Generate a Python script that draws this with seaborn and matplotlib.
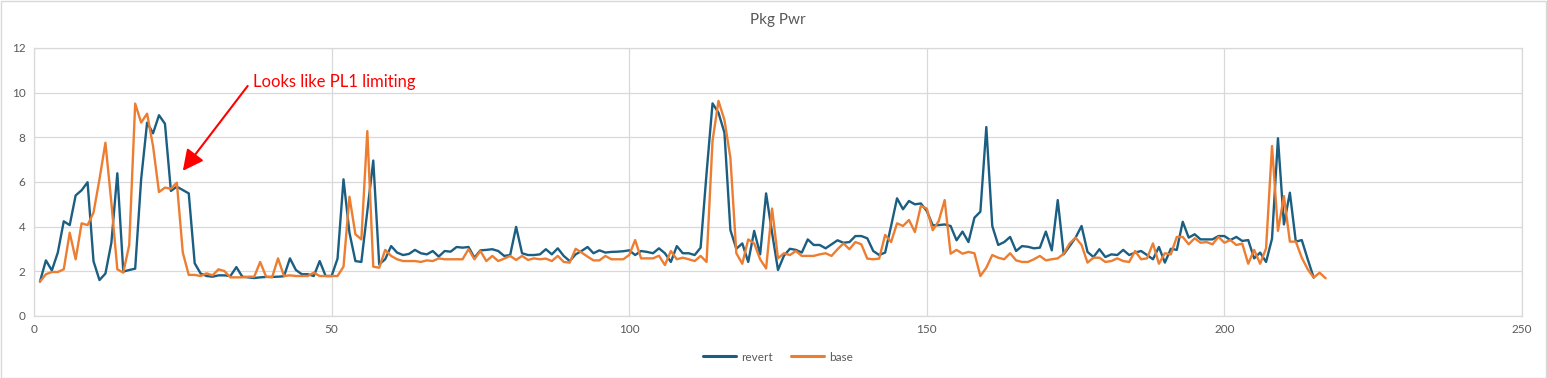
#!/usr/bin/env python3
#
# Pkg Pwr: revert vs base
#
import numpy as np
import pandas
import matplotlib
matplotlib.use('Agg')
import matplotlib.pyplot as plt
import seaborn
from matplotlib.patches import Rectangle

# Package power per sample
revert = [
    1.54, 2.49, 2.04, 2.84, 4.24, 4.07, 5.40, 5.63, 5.99, 2.45,
    1.61, 1.90, 3.28, 6.39, 1.99, 2.06, 2.12, 6.12, 8.66, 8.18,
    8.99, 8.61, 5.60, 5.79, 5.64, 5.49, 2.36, 1.90, 1.79, 1.76,
    1.82, 1.82, 1.79, 2.19, 1.76, 1.73, 1.70, 1.73, 1.75, 1.75,
    1.76, 1.78, 2.58, 2.06, 1.87, 1.87, 1.79, 2.46, 1.79, 1.79,
    2.57, 6.12, 3.73, 2.46, 2.42, 4.70, 6.96, 2.31, 2.54, 3.13,
    2.84, 2.73, 2.78, 2.96, 2.81, 2.76, 2.91, 2.66, 2.91, 2.88,
    3.09, 3.06, 3.09, 2.61, 2.94, 2.96, 2.99, 2.91, 2.69, 2.73,
    3.99, 2.81, 2.73, 2.73, 2.76, 2.99, 2.76, 3.03, 2.69, 2.46,
    2.76, 2.91, 3.09, 2.81, 2.94, 2.84, 2.87, 2.88, 2.90, 2.94,
    2.73, 2.91, 2.87, 2.81, 3.03, 2.81, 2.42, 3.13, 2.81, 2.81,
    2.73, 3.06, 6.40, 9.52, 9.10, 8.21, 3.85, 3.01, 3.25, 2.42,
    3.81, 2.76, 5.49, 3.73, 2.06, 2.70, 3.01, 2.96, 2.84, 3.43,
    3.18, 3.18, 3.03, 3.21, 3.39, 3.28, 3.31, 3.58, 3.58, 3.48,
    2.91, 2.73, 2.84, 4.03, 5.27, 4.78, 5.15, 5.00, 5.04, 4.70,
    4.06, 4.07, 4.10, 4.03, 3.39, 3.78, 3.31, 4.40, 4.67, 8.46,
    4.03, 3.18, 3.31, 3.54, 2.91, 3.13, 3.10, 3.03, 3.06, 3.78,
    2.94, 5.19, 2.76, 3.13, 3.51, 4.03, 2.87, 2.64, 2.99, 2.64,
    2.76, 2.73, 2.96, 2.73, 2.84, 2.91, 2.73, 2.54, 3.09, 2.39,
    3.01, 2.96, 4.22, 3.51, 3.66, 3.43, 3.43, 3.43, 3.58, 3.58,
    3.40, 3.54, 3.36, 3.40, 2.58, 2.84, 2.42, 3.46, 7.96, 4.10,
    5.52, 3.33, 3.40, 2.54, 1.72,
]

base = [
    1.54, 1.87, 1.97, 1.97, 2.09, 3.73, 2.54, 4.15, 4.07, 4.63,
    6.12, 7.76, 5.07, 2.09, 1.94, 3.18, 9.51, 8.66, 9.06, 7.61,
    5.55, 5.75, 5.70, 5.97, 2.84, 1.84, 1.84, 1.79, 1.91, 1.82,
    2.09, 2.01, 1.73, 1.73, 1.73, 1.76, 1.76, 2.42, 1.76, 1.73,
    2.58, 1.79, 1.82, 1.79, 1.79, 1.79, 1.94, 1.79, 1.79, 1.79,
    1.79, 2.21, 5.34, 3.66, 3.43, 8.28, 2.21, 2.16, 2.96, 2.69,
    2.54, 2.46, 2.46, 2.46, 2.42, 2.49, 2.46, 2.58, 2.54, 2.54,
    2.54, 2.54, 2.99, 2.54, 2.91, 2.46, 2.69, 2.46, 2.57, 2.69,
    2.51, 2.69, 2.51, 2.58, 2.54, 2.57, 2.46, 2.69, 2.42, 2.39,
    3.01, 2.84, 2.66, 2.49, 2.49, 2.69, 2.54, 2.54, 2.54, 2.73,
    3.40, 2.58, 2.58, 2.58, 2.70, 2.28, 2.91, 2.54, 2.61, 2.54,
    2.46, 2.69, 2.42, 7.84, 9.63, 8.78, 7.09, 2.81, 2.34, 3.43,
    3.25, 2.54, 2.13, 4.81, 2.58, 2.81, 2.73, 2.91, 2.69, 2.69,
    2.69, 2.76, 2.81, 2.69, 2.99, 3.25, 2.99, 3.31, 3.21, 2.57,
    2.54, 2.57, 3.63, 3.31, 4.15, 4.03, 4.30, 3.76, 4.93, 4.81,
    3.84, 4.25, 5.19, 2.79, 2.96, 2.79, 2.87, 2.81, 1.79, 2.16,
    2.73, 2.61, 2.54, 2.81, 2.49, 2.42, 2.42, 2.54, 2.69, 2.49,
    2.54, 2.58, 2.79, 3.25, 3.51, 3.18, 2.39, 2.61, 2.61, 2.42,
    2.46, 2.58, 2.46, 2.42, 2.91, 2.54, 2.58, 3.25, 2.34, 2.81,
    2.76, 3.54, 3.54, 3.21, 3.48, 3.28, 3.31, 3.21, 3.54, 3.28,
    3.40, 3.18, 3.24, 2.34, 2.96, 2.34, 3.03, 7.61, 3.81, 5.37,
    3.33, 3.33, 2.61, 2.09, 1.72, 1.94, 1.69,
]

series = ['revert', 'base']
colors = ['#1b5e82', '#ed7d31']
palette = dict(zip(series, colors))

# Annotation: arrow head / tail and text anchor (data coords)
note = 'Looks like PL1 limiting'
note_xy = (25.0, 6.5)
note_tail = (35.9, 10.3)
note_text = (36.8, 10.5)

# Long-form data frame
rows = []
for name, vals in zip(series, [revert, base]):
    for i, v in enumerate(vals):
        rows.append({'sample': i + 1, 'power': v, 'series': name})
df = pandas.DataFrame(rows)

seaborn.set_style('white')
plt.rcParams['font.family'] = ['Lato', 'DejaVu Sans']

grey = '#595959'
gridc = '#d9d9d9'

fig = plt.figure(figsize=(15.47, 3.78), dpi=100)
ax = fig.add_axes([34 / 1547, 62 / 378, 1488 / 1547, 268 / 378])

seaborn.lineplot(
    data=df, x='sample', y='power', hue='series', hue_order=series,
    palette=palette, linewidth=1.7, errorbar=None, sort=False, ax=ax)

ax.set_xlim(0, 250)
ax.set_ylim(0, 12)
ax.set_xticks(np.arange(0, 251, 50))
ax.set_yticks(np.arange(0, 13, 2))
ax.grid(True, color=gridc, linewidth=0.9)
ax.set_axisbelow(True)
for s in ax.spines.values():
    s.set_color(gridc)
    s.set_linewidth(0.9)
ax.tick_params(length=0, labelsize=8.5, labelcolor=grey, pad=6)
ax.set_xlabel('')
ax.set_ylabel('')

ax.set_title('Pkg Pwr', color=grey, fontsize=11, pad=17)

# Legend
ax.get_legend().remove()
handles = [plt.Line2D([], [], color=c, linewidth=2.2) for c in colors]
ax.legend(handles, series, loc='center', bbox_to_anchor=(0.5, -0.153),
          ncol=2, frameon=False, fontsize=8.5, labelcolor=grey,
          handlelength=2.8, handletextpad=0.4, columnspacing=1.6)

# Annotation
ax.text(note_text[0], note_text[1], note, color='red', fontsize=12,
        ha='left', va='center')
ax.annotate('', xy=note_xy, xytext=note_tail,
            arrowprops=dict(arrowstyle='-|>,head_length=0.9,head_width=0.45',
                            color='red', lw=1.5, shrinkA=0, shrinkB=0,
                            mutation_scale=14))

# Outer chart border
fig.add_artist(Rectangle((0.0005, 0.001), 0.999, 0.997,
                         transform=fig.transFigure, fill=False,
                         edgecolor=gridc, linewidth=1))

fig.savefig('out.png', dpi=100)
plt.close(fig)
